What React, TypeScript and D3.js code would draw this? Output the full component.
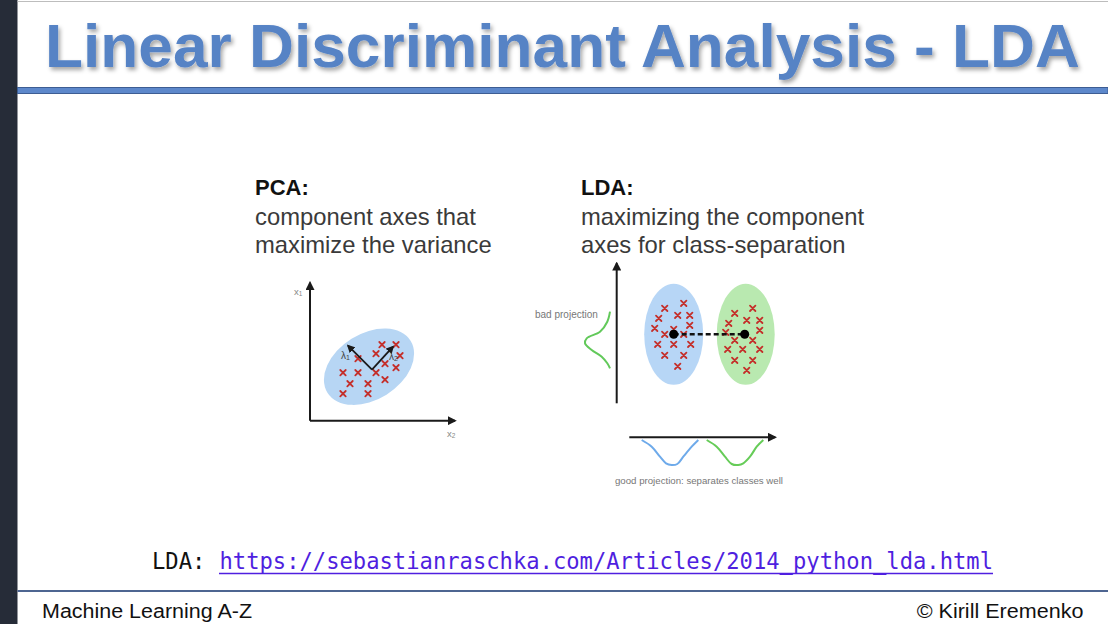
import React from "react";
import * as d3 from "d3";

// ---------- Data ----------
const titleText = "Linear Discriminant Analysis - LDA";
const pcaHeader = "PCA:";
const pcaLines = ["component axes that", "maximize the variance"];
const ldaHeader = "LDA:";
const ldaLines = ["maximizing the component", "axes for class-separation"];
const linkLabel = "LDA: ";
const linkUrl = "https://sebastianraschka.com/Articles/2014_python_lda.html";
const footerLeft = "Machine Learning A-Z";
const footerRight = "© Kirill Eremenko";

// PCA panel (local units, y up)
const pcaX = [72, 86, 66, 48, 90, 75, 86, 33, 48, 66, 75, 40, 58, 33, 58];
const pcaY = [76, 76, 67, 62, 65, 57, 53, 48, 48, 48, 41, 37, 37, 27, 27];
const pcaEllipse = { cx: 59, cy: 54, a: 49, b: 33, angle: 32 };
const pcaOrigin = [62, 51];
const pcaVec1 = [38, 75];
const pcaVec2 = [83, 74];

// LDA panel (local units, y up)
const blueX = [48, 67, 42, 61, 73, 38, 73, 48, 57, 67, 41, 57, 74, 48, 67, 61];
const blueY = [95, 100, 85, 88, 88, 75, 78, 69, 74, 69, 59, 59, 59, 48, 48, 37];
const greenX = [118, 136, 112, 130, 143, 109, 143, 118, 136, 111, 126, 143, 118, 136, 130];
const greenY = [90, 95, 80, 83, 83, 71, 73, 63, 63, 54, 54, 54, 43, 43, 33];
const blueCentroid = [57, 69];
const greenCentroid = [128, 69];
const blueEllipse = { cx: 57, cy: 69, rx: 29.5, ry: 50.5 };
const greenEllipse = { cx: 129, cy: 69, rx: 29, ry: 50.5 };
const badCurveX = [-6.7, -9.4, -16.7, -30, -31.7, -25, -15, -9.4, -6.7];
const badCurveY = [91.6, 81.6, 71.6, 65, 60, 53.3, 46.6, 40, 35];
const goodBlueX = [25, 35, 43.3, 49.3, 55, 60.6, 66.6, 75, 81.6];
const goodBlueY = [-36.7, -43.4, -53.4, -60, -61.7, -60.7, -53.4, -43.4, -36.7];
const goodGreenX = [90, 100, 108.3, 115, 121.6, 126.6, 133.3, 140, 146.6];
const goodGreenY = [-36.7, -43.4, -53.4, -60.7, -61.7, -60, -53.4, -43.4, -36.7];

const FONT = "'Liberation Sans', Arial, Helvetica, sans-serif";
const MONO = "'DejaVu Sans Mono', 'Liberation Mono', monospace";

function Cross({ x, y }: { x: number; y: number }) {
  const s = 2.7;
  return (
    <path
      d={`M${x - s},${y - s}L${x + s},${y + s}M${x - s},${y + s}L${x + s},${y - s}`}
      stroke="#c42f2a"
      strokeWidth={1.8}
      strokeLinecap="round"
    />
  );
}

export default function App() {
  // PCA scales
  const px = d3.scaleLinear().domain([0, 145]).range([310, 455]);
  const py = d3.scaleLinear().domain([0, 138]).range([420.7, 282.7]);
  // LDA scales
  const lx = d3.scaleLinear().domain([0, 160]).range([616.7, 776.7]);
  const ly = d3.scaleLinear().domain([0, 140]).range([403.3, 263.3]);

  const curve = (xs: number[], ys: number[]) =>
    d3
      .line<number>()
      .x((_, i) => lx(xs[i]))
      .y((_, i) => ly(ys[i]))
      .curve(d3.curveCatmullRom.alpha(0.5))(xs) || "";

  const ecx = px(pcaEllipse.cx);
  const ecy = py(pcaEllipse.cy);
  const ea = px(pcaEllipse.a) - px(0);
  const eb = px(pcaEllipse.b) - px(0);

  return (
    <svg
      width={1108}
      height={624}
      style={{ position: "fixed", left: 0, top: 0, background: "#fff" }}
    >
      <defs>
        <marker id="ah" viewBox="0 0 10 10" refX="8" refY="5" markerWidth="4.5" markerHeight="4.5" orient="auto">
          <path d="M0,0L10,5L0,10z" fill="#1a1a1a" />
        </marker>
        <marker id="ahs" viewBox="0 0 10 10" refX="8" refY="5" markerWidth="4.5" markerHeight="4.5" orient="auto">
          <path d="M0,0L10,5L0,10z" fill="#1a1a1a" />
        </marker>
        <filter id="shadow" x="-5%" y="-20%" width="110%" height="150%">
          <feDropShadow dx="2" dy="3" stdDeviation="2" floodColor="#000" floodOpacity="0.35" />
        </filter>
      </defs>

      <rect x={0} y={0} width={1108} height={624} fill="#fff" />
      {/* left dark strip */}
      <rect x={0} y={0} width={17.5} height={624} fill="#262c38" />
      {/* top grey line */}
      <line x1={17.5} x2={1108} y1={1.5} y2={1.5} stroke="#bdbdbd" strokeWidth={1} />

      {/* title */}
      <text
        x={45}
        y={66.5}
        fontFamily={FONT}
        fontWeight="bold"
        fontSize={61.5}
        fill="#5783c5"
        textLength={1035}
        lengthAdjust="spacingAndGlyphs"
        filter="url(#shadow)"
      >
        {titleText}
      </text>
      {/* title rule */}
      <rect x={17.5} y={87.5} width={1090.5} height={6} fill="#5d88cb" stroke="#3d5d93" strokeWidth={1} />

      {/* headers */}
      <text x={255} y={194.7} fontFamily={FONT} fontWeight="bold" fontSize={22} fill="#111">
        {pcaHeader}
      </text>
      {pcaLines.map((t, i) => (
        <text key={t} x={255} y={225.3 + i * 28} fontFamily={FONT} fontSize={23.8} fill="#3a3a3a">
          {t}
        </text>
      ))}
      <text x={581} y={194.7} fontFamily={FONT} fontWeight="bold" fontSize={22} fill="#111">
        {ldaHeader}
      </text>
      {ldaLines.map((t, i) => (
        <text key={t} x={581} y={225.3 + i * 28} fontFamily={FONT} fontSize={23.8} fill="#3a3a3a">
          {t}
        </text>
      ))}

      {/* ---------- PCA panel ---------- */}
      <ellipse
        cx={ecx}
        cy={ecy}
        rx={ea}
        ry={eb}
        fill="#b7d6f4"
        transform={`rotate(${-pcaEllipse.angle},${ecx},${ecy})`}
      />
      {pcaX.map((x, i) => (
        <Cross key={i} x={px(x)} y={py(pcaY[i])} />
      ))}
      <line x1={px(pcaOrigin[0])} y1={py(pcaOrigin[1])} x2={px(pcaVec1[0])} y2={py(pcaVec1[1])} stroke="#1a1a1a" strokeWidth={1.8} markerEnd="url(#ah)" />
      <line x1={px(pcaOrigin[0])} y1={py(pcaOrigin[1])} x2={px(pcaVec2[0])} y2={py(pcaVec2[1])} stroke="#1a1a1a" strokeWidth={1.8} markerEnd="url(#ah)" />
      <text x={px(31)} y={py(62)} fontFamily={FONT} fontSize={10} fill="#444">
        λ<tspan fontSize={7} dy={1}>1</tspan>
      </text>
      <text x={px(79)} y={py(61)} fontFamily={FONT} fontSize={10} fill="#444">
        λ<tspan fontSize={7} dy={1}>2</tspan>
      </text>
      {/* axes */}
      <line x1={px(0)} y1={py(0)} x2={px(0)} y2={py(138)} stroke="#1a1a1a" strokeWidth={2} markerEnd="url(#ahs)" />
      <line x1={px(0)} y1={py(0)} x2={px(145)} y2={py(0)} stroke="#1a1a1a" strokeWidth={2} markerEnd="url(#ahs)" />
      <text x={px(-16)} y={py(126)} fontFamily={FONT} fontSize={9.5} fill="#888">
        x<tspan fontSize={6.5} dy={1}>1</tspan>
      </text>
      <text x={px(137)} y={py(-16)} fontFamily={FONT} fontSize={9.5} fill="#888">
        x<tspan fontSize={6.5} dy={1}>2</tspan>
      </text>

      {/* ---------- LDA panel ---------- */}
      <ellipse cx={lx(blueEllipse.cx)} cy={ly(blueEllipse.cy)} rx={blueEllipse.rx} ry={blueEllipse.ry} fill="#b7d6f6" />
      <ellipse cx={lx(greenEllipse.cx)} cy={ly(greenEllipse.cy)} rx={greenEllipse.rx} ry={greenEllipse.ry} fill="#b9e9b0" />
      {blueX.map((x, i) => (
        <Cross key={"b" + i} x={lx(x)} y={ly(blueY[i])} />
      ))}
      {greenX.map((x, i) => (
        <Cross key={"g" + i} x={lx(x)} y={ly(greenY[i])} />
      ))}
      <line
        x1={lx(blueCentroid[0])}
        y1={ly(blueCentroid[1])}
        x2={lx(greenCentroid[0])}
        y2={ly(greenCentroid[1])}
        stroke="#111"
        strokeWidth={2.4}
        strokeDasharray="5,3"
      />
      <circle cx={lx(blueCentroid[0])} cy={ly(blueCentroid[1])} r={4.5} fill="#000" />
      <circle cx={lx(greenCentroid[0])} cy={ly(greenCentroid[1])} r={4.5} fill="#000" />

      {/* vertical axis */}
      <line x1={lx(0)} y1={ly(0)} x2={lx(0)} y2={ly(140)} stroke="#1a1a1a" strokeWidth={2} markerEnd="url(#ahs)" />
      <path d={curve(badCurveX, badCurveY)} fill="none" stroke="#62c95a" strokeWidth={2} />
      <text x={535} y={318.3} fontFamily={FONT} fontSize={10} fill="#777">
        bad projection
      </text>

      {/* horizontal bottom axis */}
      <line x1={lx(12.6)} y1={ly(-34)} x2={lx(158.5)} y2={ly(-34)} stroke="#1a1a1a" strokeWidth={2} markerEnd="url(#ahs)" />
      <path d={curve(goodBlueX, goodBlueY)} fill="none" stroke="#6eaaea" strokeWidth={2} />
      <path d={curve(goodGreenX, goodGreenY)} fill="none" stroke="#66cc58" strokeWidth={2} />
      <text x={615} y={484} fontFamily={FONT} fontSize={9} fill="#777" textLength={168} lengthAdjust="spacingAndGlyphs">
        good projection: separates classes well
      </text>

      {/* link line */}
      <text x={152} y={568.5} fontFamily={MONO} fontSize={22.2} fill="#111" xmlSpace="preserve">
        {linkLabel}
      </text>
      <text x={219.5} y={568.5} fontFamily={MONO} fontSize={22.2} fill="#4f1fe0" textLength={773.5} lengthAdjust="spacingAndGlyphs">
        {linkUrl}
      </text>
      <line x1={219} x2={993} y1={573.5} y2={573.5} stroke="#4f1fe0" strokeWidth={1.5} />

      {/* footer */}
      <line x1={17.5} x2={1108} y1={591} y2={591} stroke="#4e6591" strokeWidth={2} />
      <text x={42} y={618} fontFamily={FONT} fontSize={19.5} fill="#111" textLength={210} lengthAdjust="spacingAndGlyphs">
        {footerLeft}
      </text>
      <text x={916.7} y={618} fontFamily={FONT} fontSize={19.5} fill="#111" textLength={166.7} lengthAdjust="spacingAndGlyphs">
        {footerRight}
      </text>
    </svg>
  );
}
